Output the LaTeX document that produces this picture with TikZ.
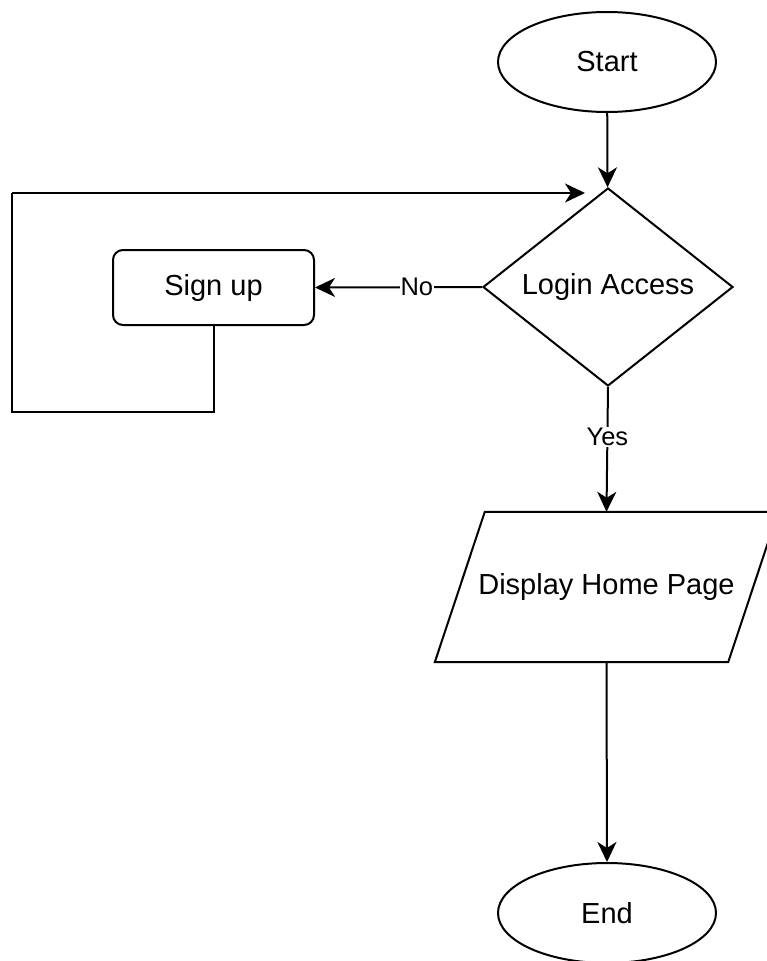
\documentclass[tikz,border=0pt]{standalone}
\usepackage{fontspec}
\setmainfont{Liberation Sans}
\usetikzlibrary{shapes.geometric,arrows.meta,calc}
\begin{document}
\begin{tikzpicture}[x=1pt,y=-1pt,
  every node/.style={font=\fontsize{29}{34}\selectfont, inner sep=0pt},
  line/.style={line width=2pt, draw=black},
  arr/.style={line, -{Stealth[length=20pt,width=19pt,inset=6pt]}},
  term/.style={ellipse, line, minimum width=218pt, minimum height=100pt},
  decision/.style={diamond, line, aspect=1.26, minimum width=250pt, minimum height=198pt},
  proc/.style={rectangle, rounded corners=10pt, line, minimum width=201pt, minimum height=75pt},
  iobox/.style={rectangle, minimum width=293pt, minimum height=150pt},
  lbl/.style={font=\fontsize{25.5}{30}\selectfont, fill=white, inner sep=1pt}
]
\useasboundingbox (0,0) rectangle (767,961);
\clip (0,0) rectangle (767,961);
\node[term] (start) at (607,62) {Start};
\node[decision] (dia) at (608,287) {Login Access};
\node[proc] (su) at (213.5,287.5) {Sign up};
\node[iobox] (disp) at (606.5,587) {Display Home Page};
\draw[line] ($(disp.north west)+(25,0)$) -- ($(disp.north east)+(25,0)$)
  -- ($(disp.south east)+(-25,0)$) -- ($(disp.south west)+(-25,0)$) -- cycle;
\node[term] (end) at (607,913) {End};
\coordinate (looptip) at (585,193);

\draw[arr] (start) -- (dia);
\draw[arr] (dia.west) -- node[lbl, pos=0.39] {No} (su.east);
\draw[line] (su.south) -- (213.5,412) -| (12,193);
\draw[arr] (12,193) -- (looptip);
\draw[arr] (dia.south) -- node[lbl, pos=0.40] {Yes} (disp.north);
\draw[arr] (disp.south) -- (end.north);
\end{tikzpicture}
\end{document}
